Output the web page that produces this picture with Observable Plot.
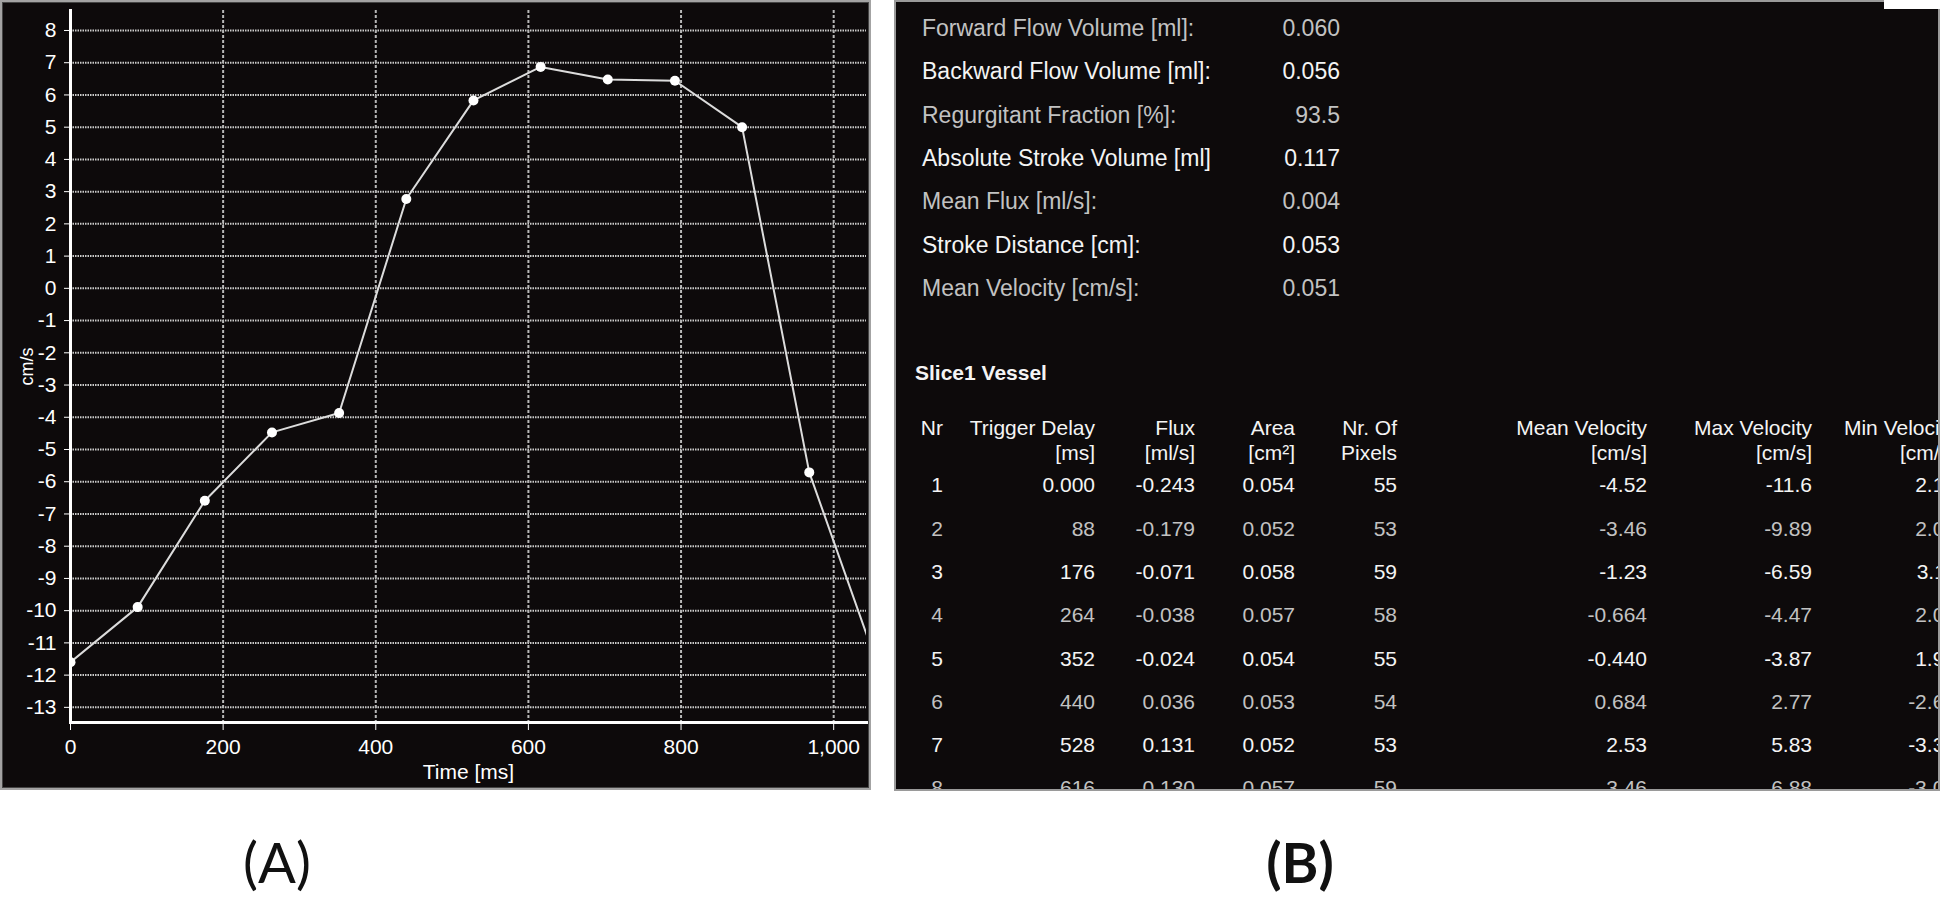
<!DOCTYPE html>
<html>
<head>
<meta charset="utf-8">
<script src="https://cdn.jsdelivr.net/npm/d3@7"></script>
<script src="https://cdn.jsdelivr.net/npm/@observablehq/plot@0.6"></script>
<style>
  body { margin:0; background:#fff; width:1946px; height:897px; overflow:hidden; position:relative; font-family:"Liberation Sans", Arial, sans-serif; }
  #left { position:absolute; left:0; top:0; width:871px; height:790px; box-sizing:border-box; background:#0d0a0b; border:2px solid #a3a3a3; box-shadow: inset 0 0 0 1px #444; }
  #chart { position:absolute; left:0; top:0; }
  #right { position:absolute; left:894px; top:0; width:1046px; height:791px; box-sizing:border-box; background:#0d0a0b; border:2px solid #9a9a9a; overflow:hidden; }
  #corner { position:absolute; left:1884px; top:0; width:56px; height:9px; background:#fff; }
  #labels { position:absolute; left:0; top:0; }
</style>
</head>
<body>
<div id="left"></div>
<div id="chart"></div>
<div id="right"></div>
<div id="corner"></div>
<svg id="labels" width="1946" height="897"></svg>
<script>
// ---------- Chart data (panel A) ----------
const timeMs      = [0, 88, 176, 264, 352, 440, 528, 616, 704, 792, 880, 968, 1056];
const maxVelocity = [-11.6, -9.89, -6.59, -4.47, -3.87, 2.77, 5.83, 6.87, 6.48, 6.44, 5.0, -5.71, -11.6];
const yTicks = [-13,-12,-11,-10,-9,-8,-7,-6,-5,-4,-3,-2,-1,0,1,2,3,4,5,6,7,8];
const xTicks = [0, 200, 400, 600, 800, 1000];
const yLabel = "cm/s";
const xLabel = "Time [ms]";

// ---------- Summary (panel B) ----------
const summaryLabels = ["Forward Flow Volume [ml]:", "Backward Flow Volume [ml]:", "Regurgitant Fraction [%]:",
  "Absolute Stroke Volume [ml]", "Mean Flux [ml/s]:", "Stroke Distance [cm]:", "Mean Velocity [cm/s]:"];
const summaryValues = ["0.060", "0.056", "93.5", "0.117", "0.004", "0.053", "0.051"];
const tableTitle = "Slice1 Vessel";
const header1 = ["Nr", "Trigger Delay", "Flux", "Area", "Nr. Of", "Mean Velocity", "Max Velocity", "Min Velocity"];
const header2 = ["", "[ms]", "[ml/s]", "[cm²]", "Pixels", "[cm/s]", "[cm/s]", "[cm/s]"];
const colNr       = ["1", "2", "3", "4", "5", "6", "7", "8"];
const colTrigger  = ["0.000", "88", "176", "264", "352", "440", "528", "616"];
const colFlux     = ["-0.243", "-0.179", "-0.071", "-0.038", "-0.024", "0.036", "0.131", "0.130"];
const colArea     = ["0.054", "0.052", "0.058", "0.057", "0.054", "0.053", "0.052", "0.057"];
const colPixels   = ["55", "53", "59", "58", "55", "54", "53", "59"];
const colMeanVel  = ["-4.52", "-3.46", "-1.23", "-0.664", "-0.440", "0.684", "2.53", "3.46"];
const colMaxVel   = ["-11.6", "-9.89", "-6.59", "-4.47", "-3.87", "2.77", "5.83", "6.88"];
const colMinVel   = ["2.10", "2.04", "3.11", "2.06", "1.92", "-2.63", "-3.35", "-3.08"];
const panelLabels = ["(A)", "(B)"];

// ---------- Panel A: Plot ----------
const series = timeMs.map((t, i) => ({t, v: maxVelocity[i]}));
const yDomain = [-13.47, 8.62];
const tickFont = "'Liberation Sans Narrow', 'Arial Narrow', 'Liberation Sans', Arial, sans-serif";
const chart = Plot.plot({
  width: 880, height: 790,
  marginLeft: 70, marginRight: 14, marginTop: 10, marginBottom: 68,
  style: {background: "transparent", color: "white", fontFamily: tickFont, fontSize: "21px", overflow: "visible"},
  x: {domain: [0, 1043]},
  y: {domain: yDomain},
  marks: [
    Plot.ruleY(yTicks, {stroke: "#cacaca", strokeWidth: 2, strokeDasharray: "1.5,1"}),
    Plot.ruleX(xTicks.slice(1), {stroke: "#b8b8b8", strokeWidth: 2, strokeDasharray: "3,2"}),
    Plot.axisY({ticks: yTicks, tickSize: 6, tickPadding: 8, tickFormat: d => String(d), label: null, color: "white", fontSize: 21}),
    Plot.axisY({ticks: [], tickSize: 0, label: yLabel, labelAnchor: "center", labelArrow: "none", labelOffset: 50, color: "white", fontSize: 18}),
    Plot.axisX({ticks: xTicks, tickSize: 8, tickPadding: 9, tickFormat: d3.format(","), label: xLabel,
      labelAnchor: "center", labelArrow: "none", labelOffset: 56, color: "white", fontSize: 21}),
    Plot.frame({anchor: "left", stroke: "white", strokeWidth: 3}),
    Plot.frame({anchor: "bottom", stroke: "white", strokeWidth: 3}),
    Plot.line(series, {x: "t", y: "v", stroke: "#dcdcdc", strokeWidth: 2, clip: true}),
    Plot.dot(series, {x: "t", y: "v", r: 5, fill: "white", stroke: "none", clip: true})
  ]
});
document.getElementById("chart").appendChild(chart);

// ---------- Panel B: text table ----------
const PX = 894; // panel left edge in page coordinates
const bright = "#f4f4f4", dim = "#c2c2c2";
const svgR = d3.select("#right").append("svg")
  .attr("width", 1046).attr("height", 791)
  .style("position", "absolute").style("left", "-2px").style("top", "-2px")
  .style("font-family", "'Liberation Sans', Arial, sans-serif");

const sumTop = 28, sumStep = 43.33, sumFont = 23;
summaryLabels.forEach((s, i) => {
  const y = sumTop + i * sumStep + 0.35 * sumFont;
  const c = i % 2 === 0 ? dim : bright;
  svgR.append("text").attr("x", 922 - PX).attr("y", y).attr("font-size", sumFont).attr("fill", c).text(s);
  svgR.append("text").attr("x", 1340 - PX).attr("y", y).attr("font-size", sumFont).attr("fill", c)
    .attr("text-anchor", "end").text(summaryValues[i]);
});

svgR.append("text").attr("x", 915 - PX).attr("y", 373 + 0.35 * 21).attr("font-size", 21)
  .attr("font-weight", "bold").attr("fill", bright).text(tableTitle);

const colRight = [943, 1095, 1195, 1295, 1397, 1647, 1812, 1956];
const tFont = 21;
header1.forEach((h, j) => {
  svgR.append("text").attr("x", colRight[j] - PX).attr("y", 428 + 0.35 * tFont).attr("font-size", tFont)
    .attr("text-anchor", "end").attr("fill", bright).text(h);
  if (header2[j]) svgR.append("text").attr("x", colRight[j] - PX).attr("y", 453 + 0.35 * tFont).attr("font-size", tFont)
    .attr("text-anchor", "end").attr("fill", bright).text(header2[j]);
});
const cols = [colNr, colTrigger, colFlux, colArea, colPixels, colMeanVel, colMaxVel, colMinVel];
colNr.forEach((_, i) => {
  const y = 485 + i * 43.3 + 0.35 * tFont;
  const c = i % 2 === 0 ? bright : dim;
  cols.forEach((col, j) => {
    svgR.append("text").attr("x", colRight[j] - PX).attr("y", y).attr("font-size", tFont)
      .attr("text-anchor", "end").attr("fill", c).text(col[i]);
  });
});

// ---------- Panel labels ----------
const lab = d3.select("#labels");
[[277, "normal"], [1300, "bold"]].forEach(([x, w], i) => {
  lab.append("text").attr("x", x).attr("y", 883).attr("text-anchor", "middle")
    .attr("font-family", "Lato, 'Open Sans', sans-serif").attr("font-size", 56).attr("font-weight", w)
    .attr("fill", "#111").text(panelLabels[i]);
});
</script>
</body>
</html>
